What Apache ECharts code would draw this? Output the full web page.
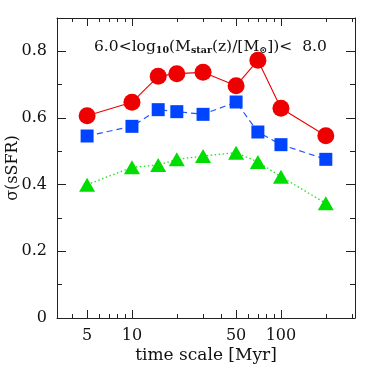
<!DOCTYPE html>
<html>
<head>
<meta charset="utf-8">
<script src="https://cdn.jsdelivr.net/npm/echarts@6/dist/echarts.min.js"></script>
<style>
  html, body { margin: 0; padding: 0; background: #fff; }
  #chart { width: 374px; height: 374px; }
</style>
</head>
<body>
<div id="chart"></div>
<script>
// time scale in Myr
const timeScales = [5, 10, 15, 20, 30, 50, 70, 100, 200];
const redValues = [0.607, 0.647, 0.725, 0.733, 0.737, 0.697, 0.773, 0.629, 0.547];
const blueValues = [0.546, 0.575, 0.625, 0.619, 0.611, 0.648, 0.558, 0.520, 0.476];
const greenValues = [0.400, 0.452, 0.459, 0.476, 0.486, 0.496, 0.468, 0.424, 0.344];

const xMajorTicks = [5, 10, 50, 100];
const xMinorTicks = [4, 6, 7, 8, 9, 20, 30, 40, 60, 70, 80, 90, 200, 300];
const yMajorTicks = [0, 0.2, 0.4, 0.6, 0.8];
const yMinorTicks = [0.1, 0.3, 0.5, 0.7];

const FONT = 'DejaVu Serif';
const X_MIN = 3.14, X_MAX = 314;

const pairs = vals => timeScales.map((t, i) => [t, vals[i]]);

const chart = echarts.init(document.getElementById('chart'));

const xAxisBase = (position, ticks, len, showLine, showLabel) => ({
  type: 'log',
  min: X_MIN,
  max: X_MAX,
  position: position,
  axisLine: { show: showLine, onZero: false, lineStyle: { color: '#222', width: 1 } },
  axisTick: { show: true, inside: true, length: len, customValues: ticks, lineStyle: { color: '#222' } },
  axisLabel: showLabel
    ? { show: true, customValues: ticks, margin: 10, color: '#111', fontFamily: FONT, fontSize: 16 }
    : { show: false },
  splitLine: { show: false },
  minorTick: { show: false }
});

const yAxisBase = (position, ticks, len, showLine, showLabel) => ({
  type: 'value',
  min: 0,
  max: 0.9,
  position: position,
  axisLine: { show: showLine, onZero: false, lineStyle: { color: '#222', width: 1 } },
  axisTick: { show: true, inside: true, length: len, customValues: ticks, lineStyle: { color: '#222' } },
  axisLabel: showLabel
    ? {
        show: true, customValues: ticks, margin: 10, color: '#111', fontFamily: FONT, fontSize: 16,
        formatter: v => (v === 0 ? '0' : v.toFixed(1))
      }
    : { show: false },
  splitLine: { show: false }
});

const xMain = xAxisBase('bottom', xMajorTicks, 8, true, true);
xMain.name = 'time scale [Myr]';
xMain.nameLocation = 'middle';
xMain.nameGap = 29;
xMain.nameMoveOverlap = false;
xMain.nameTextStyle = { fontFamily: FONT, fontSize: 17, color: '#111' };

const yMain = yAxisBase('left', yMajorTicks, 9, true, true);
yMain.name = 'σ(sSFR)';
yMain.nameLocation = 'middle';
yMain.nameGap = 36;
yMain.nameMoveOverlap = false;
yMain.nameTextStyle = { fontFamily: FONT, fontSize: 16, color: '#111' };

chart.setOption({
  animation: false,
  backgroundColor: '#fff',
  grid: { left: 57, top: 18, width: 298, height: 300, containLabel: false, outerBoundsMode: 'none' },
  title: {
    text: '{m|6.0<log}{s|10}{m|(M}{s|star}{m|(z)/[M}{s|⊙}{m|])<  8.0}',
    left: 94,
    top: 39,
    padding: 0,
    textStyle: {
      fontWeight: 'normal',
      rich: {
        m: { fontFamily: FONT, fontSize: 15.5, lineHeight: 15, color: '#111', fontWeight: 'normal' },
        s: { fontFamily: FONT, fontSize: 9.5, lineHeight: 9, padding: [9, 0, 0, 0], color: '#111', fontWeight: 'bold' }
      }
    }
  },
  xAxis: [
    xMain,
    xAxisBase('bottom', xMinorTicks, 4, false, false),
    xAxisBase('top', xMajorTicks, 8, true, false),
    xAxisBase('top', xMinorTicks, 4, false, false)
  ],
  yAxis: [
    yMain,
    yAxisBase('left', yMinorTicks, 5, false, false),
    yAxisBase('right', yMajorTicks, 9, true, false),
    yAxisBase('right', yMinorTicks, 5, false, false)
  ],
  series: [
    {
      type: 'line',
      data: pairs(greenValues),
      symbol: 'triangle',
      symbolSize: [16, 14],
      itemStyle: { color: '#00dd00' },
      lineStyle: { color: '#22dd22', width: 1.3, type: [1.5, 2.5] }
    },
    {
      type: 'line',
      data: pairs(blueValues),
      symbol: 'rect',
      symbolSize: 13,
      itemStyle: { color: '#0044ff' },
      lineStyle: { color: '#2255ff', width: 1.2, type: [6, 4] }
    },
    {
      type: 'line',
      data: pairs(redValues),
      symbol: 'circle',
      symbolSize: 17,
      itemStyle: { color: '#ee0000' },
      lineStyle: { color: '#ee0000', width: 1.1 }
    }
  ]
});
</script>
</body>
</html>
